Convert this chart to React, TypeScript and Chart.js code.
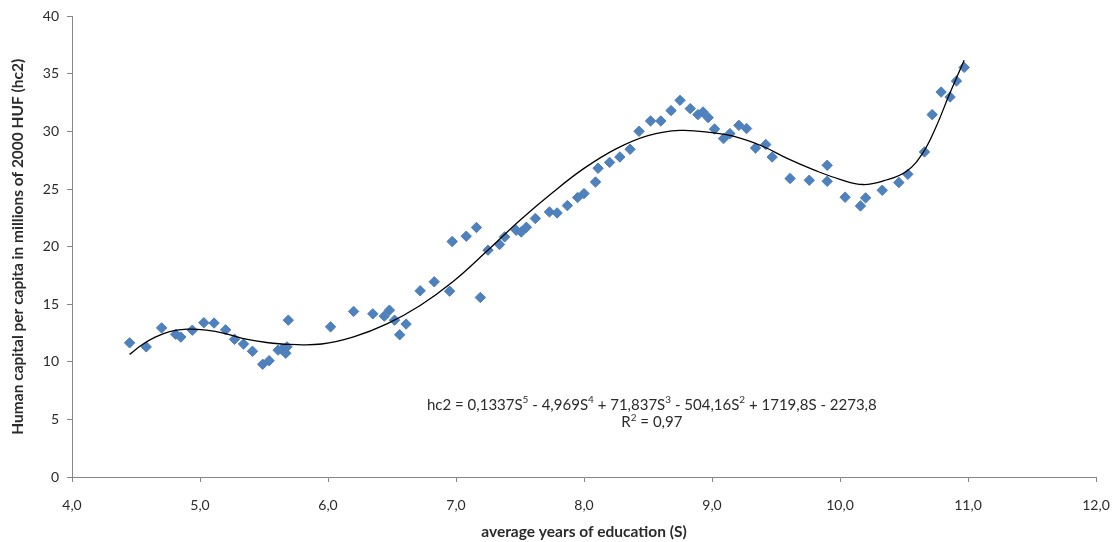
import { useEffect, useRef } from 'react';
import { Chart, registerables } from 'chart.js';

Chart.register(...registerables);

// Observed points: average years of education (S) vs human capital per capita (hc2)
const EDU_YEARS = [
  4.45, 4.58, 4.70, 4.81, 4.85, 4.94, 5.03, 5.11, 5.20, 5.27, 5.34, 5.41, 5.49, 5.54,
  5.61, 5.64, 5.67, 5.68, 5.69, 6.02, 6.20, 6.35, 6.44, 6.48, 6.52, 6.56, 6.61, 6.72,
  6.83, 6.95, 6.97, 7.08, 7.16, 7.19, 7.25, 7.34, 7.38, 7.47, 7.51, 7.55, 7.62, 7.73,
  7.79, 7.87, 7.95, 8.00, 8.09, 8.11, 8.20, 8.28, 8.36, 8.43, 8.52, 8.60, 8.68, 8.75,
  8.83, 8.89, 8.93, 8.97, 9.02, 9.09, 9.14, 9.21, 9.27, 9.34, 9.42, 9.47, 9.61, 9.76,
  9.90, 9.90, 10.04, 10.16, 10.20, 10.33, 10.46, 10.53, 10.66, 10.72, 10.79, 10.86,
  10.91, 10.97,
];
const HUMAN_CAPITAL = [
  11.65, 11.3, 12.95, 12.4, 12.15, 12.75, 13.4, 13.37, 12.78, 11.96, 11.55, 10.92, 9.79, 10.1,
  11.02, 11.1, 10.75, 11.3, 13.62, 13.04, 14.38, 14.17, 13.97, 14.49, 13.62, 12.35, 13.28, 16.17,
  16.95, 16.14, 20.45, 20.91, 21.67, 15.59, 19.70, 20.19, 20.85, 21.43, 21.28, 21.69, 22.45, 23.02,
  22.93, 23.57, 24.27, 24.61, 25.62, 26.81, 27.32, 27.79, 28.46, 30.02, 30.92, 30.92, 31.82, 32.71,
  31.99, 31.47, 31.70, 31.21, 30.22, 29.39, 29.82, 30.54, 30.26, 28.57, 28.87, 27.79, 25.92, 25.77,
  25.68, 27.07, 24.30, 23.54, 24.24, 24.90, 25.57, 26.29, 28.23, 31.47, 33.43, 33.00,
  34.39, 35.57,
];

// Polynomial trendline as drawn in the picture
const TREND_YEARS = [
  4.45, 4.55, 4.65, 4.77, 4.9, 5.05, 5.2, 5.36, 5.52, 5.7, 5.95, 6.2, 6.46, 6.72, 6.98,
  7.24, 7.5, 7.76, 8.0, 8.25, 8.5, 8.75, 9.0, 9.2, 9.4, 9.6, 9.8, 10.0, 10.18, 10.35,
  10.52, 10.65, 10.75, 10.85, 10.97,
];
const TREND_VALUES = [
  10.65, 11.5, 12.15, 12.65, 12.84, 12.75, 12.45, 11.97, 11.68, 11.52, 11.55, 12.17, 13.3, 14.9, 17.0,
  19.6, 22.3, 24.75, 26.8, 28.5, 29.65, 30.1, 29.9, 29.5, 28.7, 27.6, 26.65, 25.85, 25.4, 25.75,
  26.55, 28.2, 30.4, 33.1, 36.2,
];

const X_TICK_LABELS = ['4,0', '5,0', '6,0', '7,0', '8,0', '9,0', '10,0', '11,0', '12,0'];
const Y_TICK_LABELS = ['0', '5', '10', '15', '20', '25', '30', '35', '40'];

const X_TITLE = 'average years of education (S)';
const Y_TITLE = 'Human capital per capita in millions of 2000 HUF (hc2)';

// [text, superscript]
const EQUATION_PARTS: [string, string][] = [
  ['hc2 = 0,1337S', '5'],
  [' - 4,969S', '4'],
  [' + 71,837S', '3'],
  [' - 504,16S', '2'],
  [' + 1719,8S - 2273,8', ''],
];
const R2_PARTS: [string, string][] = [
  ['R', '2'],
  [' = 0,97', ''],
];

const FONT = 'Lato, "Open Sans", sans-serif';
const TEXT_COLOR = '#2b2b2b';
const AXIS_COLOR = '#868686';
const POINT_COLOR = '#4F81BD';

const equationPlugin = {
  id: 'equationLabel',
  afterDatasetsDraw(chart: any) {
    const { ctx, scales } = chart;
    const cx = scales.x.getPixelForValue(8.53);
    const lines: [[string, string][], number][] = [
      [EQUATION_PARTS, scales.y.getPixelForValue(6.25)],
      [R2_PARTS, scales.y.getPixelForValue(4.75)],
    ];
    const base = `15px ${FONT}`;
    const sup = `10px ${FONT}`;
    ctx.save();
    ctx.fillStyle = TEXT_COLOR;
    ctx.textBaseline = 'middle';
    ctx.textAlign = 'left';
    for (const [parts, y] of lines) {
      let total = 0;
      for (const [t, s] of parts) {
        ctx.font = base;
        total += ctx.measureText(t).width;
        if (s) {
          ctx.font = sup;
          total += ctx.measureText(s).width;
        }
      }
      let x = cx - total / 2;
      for (const [t, s] of parts) {
        ctx.font = base;
        ctx.fillText(t, x, y);
        x += ctx.measureText(t).width;
        if (s) {
          ctx.font = sup;
          ctx.fillText(s, x, y - 5);
          x += ctx.measureText(s).width;
        }
      }
    }
    ctx.restore();
  },
};

export default function App() {
  const canvasRef = useRef<HTMLCanvasElement | null>(null);

  useEffect(() => {
    document.body.style.margin = '0';
    const canvas = canvasRef.current;
    if (!canvas) return;

    const points = EDU_YEARS.map((x, i) => ({ x, y: HUMAN_CAPITAL[i] }));
    const trend = TREND_YEARS.map((x, i) => ({ x, y: TREND_VALUES[i] }));

    const chart = new Chart(canvas, {
      type: 'scatter',
      data: {
        datasets: [
          {
            label: 'Poly. trend',
            data: trend,
            showLine: true,
            borderColor: '#000000',
            borderWidth: 1.3,
            pointRadius: 0,
            tension: 0.4,
            fill: false,
          },
          {
            label: 'hc2',
            data: points,
            showLine: false,
            pointStyle: 'rectRot',
            pointRadius: 5.2,
            pointBorderWidth: 1,
            backgroundColor: POINT_COLOR,
            borderColor: '#4A7EBB',
          },
        ],
      },
      options: {
        animation: false,
        responsive: false,
        devicePixelRatio: 1,
        layout: { padding: { top: 16, right: 24, left: 0, bottom: 0 } },
        plugins: {
          legend: { display: false },
          tooltip: { enabled: false },
        },
        scales: {
          x: {
            type: 'linear',
            min: 4,
            max: 12,
            afterFit: (s: any) => {
              s.height = 65;
            },
            afterBuildTicks: (s: any) => {
              s.ticks = X_TICK_LABELS.map((_, i) => ({ value: 4 + i }));
            },
            ticks: {
              callback: (_v: any, i: number) => X_TICK_LABELS[i],
              font: { family: FONT, size: 14, lineHeight: 1.86 },
              color: TEXT_COLOR,
              padding: 10,
              maxRotation: 0,
            },
            grid: {
              display: true,
              drawOnChartArea: false,
              drawTicks: true,
              tickLength: 5,
              color: AXIS_COLOR,
            },
            border: { display: true, color: AXIS_COLOR, width: 1 },
            title: {
              display: true,
              text: X_TITLE,
              font: { family: FONT, size: 15.5, weight: 'bold' },
              color: TEXT_COLOR,
              padding: { top: 0, bottom: 1 },
            },
          },
          y: {
            type: 'linear',
            min: 0,
            max: 40,
            afterFit: (s: any) => {
              s.width = 72;
            },
            afterBuildTicks: (s: any) => {
              s.ticks = Y_TICK_LABELS.map((_, i) => ({ value: i * 5 }));
            },
            ticks: {
              callback: (_v: any, i: number) => Y_TICK_LABELS[i],
              font: { family: FONT, size: 14 },
              color: TEXT_COLOR,
              padding: 8,
            },
            grid: {
              display: true,
              drawOnChartArea: false,
              drawTicks: true,
              tickLength: 5,
              color: AXIS_COLOR,
            },
            border: { display: true, color: AXIS_COLOR, width: 1 },
            title: {
              display: true,
              text: Y_TITLE,
              font: { family: FONT, size: 15.5, weight: 'bold' },
              color: TEXT_COLOR,
              padding: { top: 9, bottom: 0 },
            },
          },
        },
      },
      plugins: [equationPlugin],
    });

    return () => {
      chart.destroy();
    };
  }, []);

  return (
    <div style={{ width: 1120, height: 542, background: '#ffffff' }}>
      <canvas ref={canvasRef} width={1120} height={542} style={{ display: 'block' }} />
    </div>
  );
}
